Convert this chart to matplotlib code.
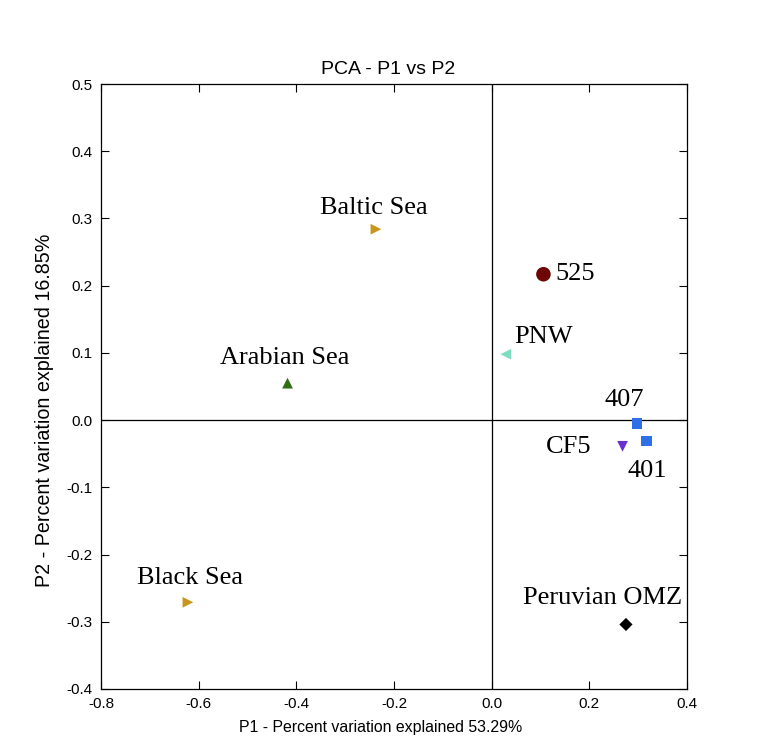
import matplotlib
matplotlib.use("Agg")
from matplotlib import pyplot as plt

# PCA scores
names = ["Baltic Sea", "525", "PNW", "Arabian Sea", "407", "401", "CF5", "Black Sea", "Peruvian OMZ"]
p1 = [-0.237, 0.106, 0.029, -0.418, 0.298, 0.317, 0.268, -0.622, 0.275]
p2 = [0.284, 0.217, 0.098, 0.055, -0.005, -0.031, -0.039, -0.271, -0.304]

markers = [">", "o", "<", "^", "s", "s", "v", ">", "D"]
colors = ["#c8961c", "#6e0606", "#7fdcc0", "#2e6e14", "#2f6fe8", "#2f6fe8", "#6a30d2", "#c8961c", "#000000"]
sizes = [60, 110, 60, 60, 55, 55, 60, 60, 45]
# label offsets in pixels (dx, dy) from the marker
offsets = [(-56, 21), (12, 0), (8, 17), (-68, 25), (-33, 23), (-19, -30), (-77, -1), (-51, 24), (-103, 26)]

fig = plt.figure(figsize=(7.6, 7.53), dpi=100)
ax = fig.add_axes([101/760, 1 - 689/753, 586/760, 605/753])

ax.axhline(0, color="black", lw=0.9, zorder=1)
ax.axvline(0, color="black", lw=0.9, zorder=1)

for i in range(len(names)):
    ax.scatter(p1[i], p2[i], marker=markers[i], color=colors[i], s=sizes[i],
               edgecolors="none", zorder=3)
    ax.annotate(names[i], (p1[i], p2[i]), xytext=offsets[i], textcoords="offset pixels",
                ha="left", va="center", fontsize=19, family="Liberation Serif", zorder=4)

ax.set_xlim(-0.8, 0.4)
ax.set_ylim(-0.4, 0.5)
ax.set_xticks([-0.8, -0.6, -0.4, -0.2, 0.0, 0.2, 0.4])
ax.set_yticks([-0.4, -0.3, -0.2, -0.1, 0.0, 0.1, 0.2, 0.3, 0.4, 0.5])
ax.xaxis.set_major_formatter(matplotlib.ticker.FormatStrFormatter("%.1f"))
ax.yaxis.set_major_formatter(matplotlib.ticker.FormatStrFormatter("%.1f"))
ax.tick_params(direction="in", top=True, right=True, length=6, width=0.8,
               labelsize=11, labelfontfamily="Liberation Sans", pad=6)
for s in ax.spines.values():
    s.set_linewidth(0.9)

ax.set_title("PCA - P1 vs P2", fontsize=14, family="Liberation Sans", pad=7, x=0.49)
ax.set_xlabel("P1 - Percent variation explained 53.29%", fontsize=11.4,
              family="Liberation Sans", labelpad=6, x=0.478)
ax.set_ylabel("P2 - Percent variation explained 16.85%", fontsize=14.2,
              family="Liberation Sans", labelpad=9, y=0.461)

plt.savefig("out.png", dpi=100)
